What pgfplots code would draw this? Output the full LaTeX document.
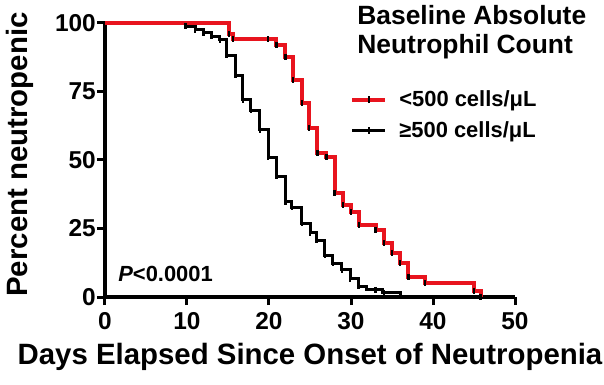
\documentclass[border=0pt]{standalone}
\usepackage{pgfplots}
\pgfplotsset{compat=1.18}
\usepackage{fontspec}
\setmainfont{Liberation Sans}
\definecolor{kmred}{RGB}{232,20,30}
\begin{document}
\begin{tikzpicture}
\begin{axis}[
  scale only axis, width=410bp, height=274bp,
  xmin=0, xmax=50, ymin=0, ymax=100,
  axis x line*=bottom, axis y line*=left,
  axis line style={line width=3.5bp,-},
  every tick/.style={line width=3bp,black},
  tick align=outside, major tick length=8bp,
  xtick={0,10,20,30,40,50}, ytick={0,25,50,75,100},
  ticklabel style={font=\fontsize{24.5}{24.5}\selectfont\bfseries},
  yticklabel style={inner sep=1bp},
  xticklabel style={inner sep=3bp, yshift=-4bp},
  /pgf/number format/assume math mode=true,
  xlabel={Days Elapsed Since Onset of Neutropenia},
  ylabel={Percent neutropenic},
  xlabel style={font=\fontsize{29.5}{29.5}\selectfont\bfseries, at={(axis description cs:0.5,-0.219)}, anchor=center},
  ylabel style={font=\fontsize{29.5}{29.5}\selectfont\bfseries, at={(axis description cs:-0.207,0.52)}, anchor=center},
  clip=false,
  legend style={at={(rel axis cs:0.598,0.76)}, anchor=north west, draw=none, fill=none,
    font=\fontsize{22}{22}\selectfont\bfseries, inner sep=0pt, row sep=9bp,
    nodes={inner sep=2bp}, cells={anchor=west}},
  legend image code/.code={
    \draw[#1,line cap=butt] (0bp,0bp) -- (33bp,0bp);
    \draw[black,line width=2bp] (16.5bp,-3.5bp) -- (16.5bp,3.5bp);
  },
]
% black: >=500 cells/uL
\addplot[black, line width=3bp, const plot, forget plot] coordinates {
(0,100) (9.8,98.8) (11,97.6) (12,96.4) (13,95.2) (14,93.8) (14.8,88.3) (15.9,81)
(16.8,72) (17.8,68.2) (18.9,61) (19.9,51) (20.9,44) (22,34.7) (22.8,32.8) (24,27)
(25,23.4) (25.8,20.8) (26.8,15.3) (27.8,12.4) (28.9,9.9) (29.9,6.6) (30.9,4.0)
(31.9,2.6) (33.9,1.5) (36,0)
};
\addplot[black, only marks, mark=|, mark size=3bp, mark options={line width=2.5bp}, forget plot] coordinates {
(9.8,98.8) (11,97.6) (12,96.4) (13,95.2) (14,93.8) (14.8,88.3) (15.9,81)
(16.8,72) (17.8,68.2) (18.9,61) (19.9,51) (20.9,44) (22,34.7) (22.8,32.8) (24,27)
(25,23.4) (25.8,20.8) (26.8,15.3) (27.8,12.4) (28.9,9.9) (29.9,6.6) (30.9,4.0)
(33,2.6) (34,1.5)
};
% red: <500 cells/uL
\addplot[kmred, line width=4bp, const plot, forget plot] coordinates {
(0,100) (15.1,96) (15.6,94) (20.9,92) (22,87.6) (22.9,79.2) (24,70.8) (24.9,61.7)
(25.9,52.6) (27,51) (28,38) (29,33.5) (30,31) (31,26.3) (33,24.5) (34,19.7)
(35,16) (36,12.4) (37,7.3) (39,5.1) (45,2.2) (45.8,0)
};
\addplot[black, only marks, mark=|, mark size=3bp, mark options={line width=2.5bp}, forget plot] coordinates {
(15.1,96) (15.6,94) (19.9,94) (20.9,92) (22,87.6) (22.9,79.2) (24,70.8) (24.9,61.7)
(25.9,52.6) (27,51) (28,38) (29,33.5) (30,31) (31,26.3) (33,24.5) (34,19.7)
(35,16) (36,12.4) (37,7.3) (39,5.1) (45,2.2) (45.8,0)
};
\addlegendimage{kmred, line width=4bp}
\addlegendentry{\hspace{10bp}<500 cells/μL}
\addlegendimage{black, line width=3bp}
\addlegendentry{\hspace{10bp}≥500 cells/μL}
\node[anchor=north west, inner sep=0pt, align=left, font=\fontsize{26.5}{29}\selectfont\bfseries]
  at (rel axis cs:0.615,1.066) {Baseline Absolute\\Neutrophil Count};
\node[anchor=base west, inner sep=0pt, font=\fontsize{22}{22}\selectfont\bfseries]
  at (axis cs:1.6,5.5) {\textit{P}<0.0001};
\end{axis}
\pgfresetboundingbox
\path[use as bounding box] ([shift={(-105bp,-88bp)}]current axis.south west) rectangle ++(604bp,385bp);
\end{tikzpicture}
\end{document}
